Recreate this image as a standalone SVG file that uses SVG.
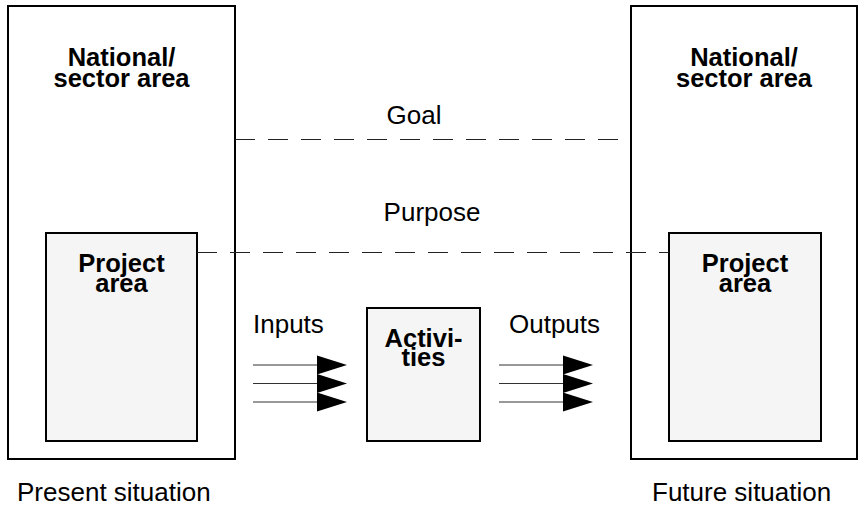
<svg xmlns="http://www.w3.org/2000/svg" width="858" height="508" viewBox="0 0 858 508">
  <style>
    .outer { fill: #ffffff; stroke: #000; stroke-width: 2; }
    .inner { fill: #f5f5f5; stroke: #000; stroke-width: 2; }
    .bold { font-family: "Liberation Sans", Arial, sans-serif; font-weight: bold; font-size: 25.5px; fill: #000; text-anchor: middle; }
    .plain { font-family: "Liberation Sans", Arial, sans-serif; font-size: 26px; fill: #000; }
    .dash { stroke: #222; stroke-width: 1; stroke-dasharray: 20 13; fill: none; }
    .flow { stroke: #333; stroke-width: 1.2; fill: none; marker-end: url(#head); }
  </style>
  <defs>
    <marker id="head" markerUnits="userSpaceOnUse" markerWidth="31" markerHeight="20" refX="0" refY="10" orient="auto">
      <polygon points="0,0.5 30,10 0,19.5" fill="#000"/>
    </marker>
  </defs>

  <rect width="858" height="508" fill="#fff"/>

  <!-- present situation -->
  <g id="present">
    <rect class="outer" x="8" y="6" width="227" height="453"/>
    <text class="bold" x="121.5" y="66"><tspan x="121.5">National/</tspan><tspan x="121.5" dy="21">sector area</tspan></text>
    <text class="plain" x="17" y="501">Present situation</text>
  </g>
  <g id="project-present">
    <rect class="inner" x="46" y="233" width="151" height="208"/>
    <text class="bold" x="121.5" y="272"><tspan x="121.5">Project</tspan><tspan x="121.5" dy="20">area</tspan></text>
  </g>

  <!-- future situation -->
  <g id="future">
    <rect class="outer" x="631" y="6" width="226" height="453"/>
    <text class="bold" x="744" y="66"><tspan x="744">National/</tspan><tspan x="744" dy="21">sector area</tspan></text>
    <text class="plain" x="652" y="501">Future situation</text>
  </g>
  <g id="project-future">
    <rect class="inner" x="669" y="233" width="152" height="208"/>
    <text class="bold" x="745" y="272"><tspan x="745">Project</tspan><tspan x="745" dy="20">area</tspan></text>
  </g>

  <!-- activities -->
  <g id="activities">
    <rect class="inner" x="367" y="308" width="113" height="133"/>
    <text class="bold" x="423.5" y="347"><tspan x="423.5">Activi-</tspan><tspan x="423.5" dy="19">ties</tspan></text>
  </g>

  <!-- links between the situations -->
  <g id="connectors">
    <line class="dash" x1="235" y1="139.5" x2="631" y2="139.5"/>
    <text class="plain" x="414" y="124" text-anchor="middle">Goal</text>
    <line class="dash" x1="197" y1="252.5" x2="669" y2="252.5"/>
    <text class="plain" x="432" y="221" text-anchor="middle">Purpose</text>

    <text class="plain" x="253" y="333">Inputs</text>
    <line class="flow" x1="253" y1="365" x2="317" y2="365"/>
    <line class="flow" x1="253" y1="383.5" x2="317" y2="383.5"/>
    <line class="flow" x1="253" y1="402" x2="317" y2="402"/>

    <text class="plain" x="509" y="333">Outputs</text>
    <line class="flow" x1="499" y1="365" x2="563" y2="365"/>
    <line class="flow" x1="499" y1="383.5" x2="563" y2="383.5"/>
    <line class="flow" x1="499" y1="402" x2="563" y2="402"/>
  </g>
</svg>
